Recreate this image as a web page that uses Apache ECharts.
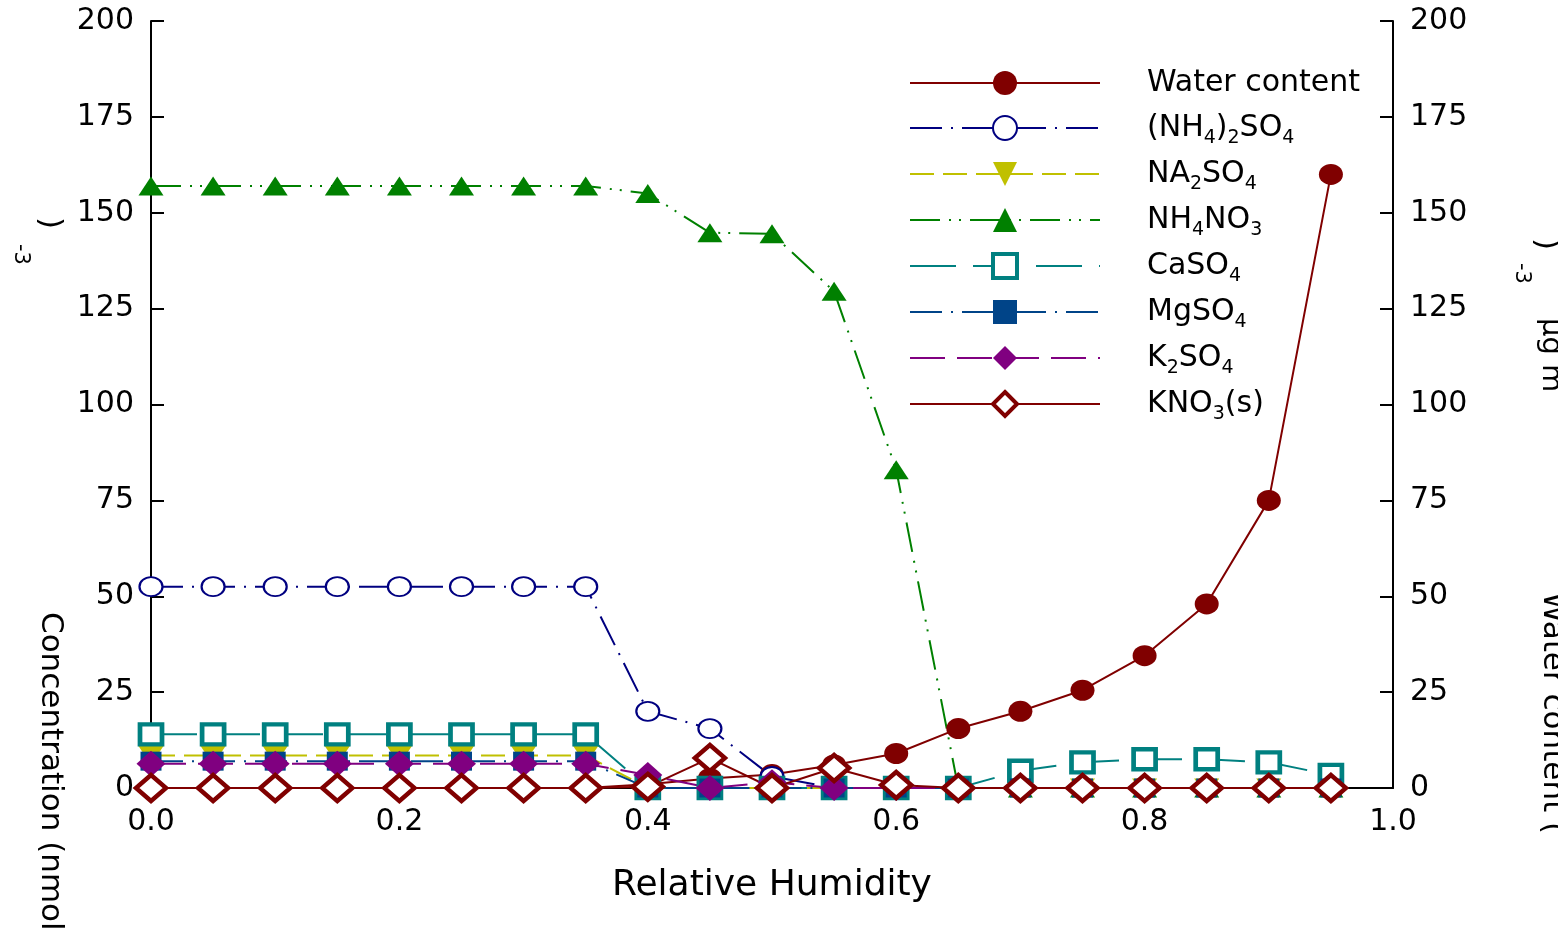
<!DOCTYPE html>
<html>
<head>
<meta charset="utf-8">
<script src="https://cdn.jsdelivr.net/npm/echarts@6/dist/echarts.min.js"></script>
<style>
  html, body { margin: 0; padding: 0; background: #fff; }
  #main { width: 1567px; height: 936px; }
</style>
</head>
<body>
<div id="main"></div>
<script>
var chartDom = document.getElementById('main');
var myChart = echarts.init(chartDom);
var option;

// relative humidity steps
var rh = [0, 0.05, 0.1, 0.15, 0.2, 0.25, 0.3, 0.35, 0.4, 0.45,
          0.5, 0.55, 0.6, 0.65, 0.7, 0.75, 0.8, 0.85, 0.9, 0.95];

// water content (ug m-3), right axis
var water   = [0, 0, 0, 0, 0, 0, 0, 0, 1, 2.5, 3.5, 6, 9, 15.5, 20, 25.5, 34.5, 48, 75, 160];
// concentrations (nmol m-3), left axis
var nh42so4 = [52.5, 52.5, 52.5, 52.5, 52.5, 52.5, 52.5, 52.5, 20, 15.5, 3, 0, 0, 0, 0, 0, 0, 0, 0, 0];
var na2so4  = [8.5, 8.5, 8.5, 8.5, 8.5, 8.5, 8.5, 8.5, 0, 0, 0, 0, 0, 0, 0, 0, 0, 0, 0, 0];
var nh4no3  = [157, 157, 157, 157, 157, 157, 157, 157, 155, 144.8, 144.5, 129.5, 83, 0, 0, 0, 0, 0, 0, 0];
var caso4   = [14, 14, 14, 14, 14, 14, 14, 14, 0, 0, 0, 0, 0, 0, 4.5, 6.7, 7.5, 7.5, 6.7, 3.4];
var mgso4   = [7, 7, 7, 7, 7, 7, 7, 7, 0, 0, 0, 0, 0, 0, 0, 0, 0, 0, 0, 0];
var k2so4   = [6.3, 6.3, 6.3, 6.3, 6.3, 6.3, 6.3, 6.3, 3.4, 0, 1.5, 0, 0, 0, 0, 0, 0, 0, 0, 0];
var kno3    = [0, 0, 0, 0, 0, 0, 0, 0, 0.3, 7.8, 0, 5.2, 0.8, 0, 0, 0, 0, 0, 0, 0];

var names = ['Water content', '(NH4)2SO4', 'NA2SO4', 'NH4NO3', 'CaSO4', 'MgSO4', 'K2SO4', 'KNO3(s)'];
var richNames = {
  'Water content': 'Water content',
  '(NH4)2SO4': '(NH{s|4}){s|2}SO{s|4}',
  'NA2SO4': 'NA{s|2}SO{s|4}',
  'NH4NO3': 'NH{s|4}NO{s|3}',
  'CaSO4': 'CaSO{s|4}',
  'MgSO4': 'MgSO{s|4}',
  'K2SO4': 'K{s|2}SO{s|4}',
  'KNO3(s)': 'KNO{s|3}(s)'
};

function pairs(vals) {
  return rh.map(function (x, i) { return [x, vals[i]]; });
}

var font = 'DejaVu Sans';

function line(name, vals, color, dash, symbol, size, itemStyle, extra) {
  var s = {
    name: name,
    type: 'line',
    data: pairs(vals),
    symbol: symbol,
    symbolSize: size,
    clip: false,
    lineStyle: { color: color, width: 2, type: dash },
    itemStyle: itemStyle
  };
  if (extra) Object.assign(s, extra);
  return s;
}

// thicker outlines for the open markers in the legend
var legendData = names.map(function (n) {
  if (n === 'CaSO4' || n === 'KNO3(s)') return { name: n, itemStyle: { borderWidth: 4 } };
  return { name: n };
});

option = {
  backgroundColor: '#fff',
  animation: false,
  grid: { left: 151, right: 174, top: 21, bottom: 148 },
  legend: {
    orient: 'vertical',
    left: 904,
    top: 59,
    itemWidth: 190,
    itemHeight: 30,
    itemGap: 6,
    data: legendData,
    formatter: function (n) { return richNames[n]; },
    textStyle: {
      fontFamily: font,
      fontSize: 30,
      color: '#000',
      lineHeight: 38,
      padding: [0, 0, 0, 42],
      rich: {
        s: { fontFamily: font, fontSize: 19, lineHeight: 18, padding: [21, 0, 0, 0], color: '#000' }
      }
    }
  },
  xAxis: {
    type: 'value',
    min: 0,
    max: 1,
    interval: 0.2,
    name: 'Relative Humidity',
    nameLocation: 'middle',
    nameGap: 80,
    nameTextStyle: { fontFamily: font, fontSize: 36, color: '#000' },
    axisLine: { lineStyle: { color: '#000', width: 2 } },
    axisTick: { show: false },
    splitLine: { show: false },
    axisLabel: {
      fontFamily: font, fontSize: 30, color: '#000', margin: 19,
      formatter: function (v) { return v.toFixed(1); }
    }
  },
  yAxis: [{
    type: 'value',
    min: 0,
    max: 200,
    interval: 25,
    axisLine: { show: true, lineStyle: { color: '#000', width: 2 } },
    axisTick: { show: true, inside: true, length: 13, lineStyle: { color: '#000', width: 2 } },
    splitLine: { show: false },
    axisLabel: { fontFamily: font, fontSize: 30, color: '#000', margin: 17 }
  }, {
    type: 'value',
    position: 'right',
    min: 0,
    max: 200,
    interval: 25,
    axisLine: { show: true, lineStyle: { color: '#000', width: 2 } },
    axisTick: { show: true, inside: true, length: 13, lineStyle: { color: '#000', width: 2 } },
    splitLine: { show: false },
    axisLabel: { fontFamily: font, fontSize: 30, color: '#000', margin: 17 }
  }],
  graphic: [
    { type: 'text', x: 50, y: 612, rotation: -Math.PI / 2,
      style: { text: 'Concentration (nmol', font: '31px "DejaVu Sans"', fill: '#000', textAlign: 'left', textVerticalAlign: 'middle' } },
    { type: 'text', x: 49, y: 217, rotation: -Math.PI / 2,
      style: { text: ')', font: '31px "DejaVu Sans"', fill: '#000', textAlign: 'left', textVerticalAlign: 'middle' } },
    { type: 'text', x: 20, y: 244, rotation: -Math.PI / 2,
      style: { text: '-3', font: '21px "DejaVu Sans"', fill: '#000', textAlign: 'left', textVerticalAlign: 'middle' } },
    { type: 'text', x: 1552, y: 592, rotation: -Math.PI / 2,
      style: { text: 'Water content (', font: '31px "DejaVu Sans"', fill: '#000', textAlign: 'left', textVerticalAlign: 'middle' } },
    { type: 'text', x: 1551, y: 318, rotation: -Math.PI / 2,
      style: { text: 'μg m', font: '29px "DejaVu Sans"', fill: '#000', textAlign: 'left', textVerticalAlign: 'middle' } },
    { type: 'text', x: 1545, y: 238, rotation: -Math.PI / 2,
      style: { text: ')', font: '31px "DejaVu Sans"', fill: '#000', textAlign: 'left', textVerticalAlign: 'middle' } },
    { type: 'text', x: 1521, y: 263, rotation: -Math.PI / 2,
      style: { text: '-3', font: '21px "DejaVu Sans"', fill: '#000', textAlign: 'left', textVerticalAlign: 'middle' } },
    { type: 'rect', shape: { x: 1558, y: 0, width: 9, height: 936 }, style: { fill: '#fff' }, z: 100 }
  ],
  series: [
    line('Water content', water, '#800000', 'solid', 'circle', [24, 21],
      { color: '#800000' }, { yAxisIndex: 1 }),
    line('(NH4)2SO4', nh42so4, '#000080', [32, 9, 2, 9], 'circle', [23, 19],
      { color: '#fff', borderColor: '#000080', borderWidth: 2 }),
    line('NA2SO4', na2so4, '#c0c000', [24, 9], 'triangle', [25, 19],
      { color: '#c0c000' }, { symbolRotate: 180 }),
    line('NH4NO3', nh4no3, '#008000', [30, 9, 2, 8, 2, 9], 'triangle', [25, 19],
      { color: '#008000' }),
    line('CaSO4', caso4, '#008080', [46, 17], 'rect', [22, 20],
      { color: '#fff', borderColor: '#008080', borderWidth: 4.5 }),
    line('MgSO4', mgso4, '#004488', [32, 9, 2, 9], 'rect', [21, 19],
      { color: '#004488' }),
    line('K2SO4', k2so4, '#800080', [35, 12], 'diamond', [29, 26],
      { color: '#800080' }),
    line('KNO3(s)', kno3, '#800000', 'solid', 'diamond', [30, 26],
      { color: '#fff', borderColor: '#800000', borderWidth: 4.5 })
  ]
};

option && myChart.setOption(option);
</script>
</body>
</html>
